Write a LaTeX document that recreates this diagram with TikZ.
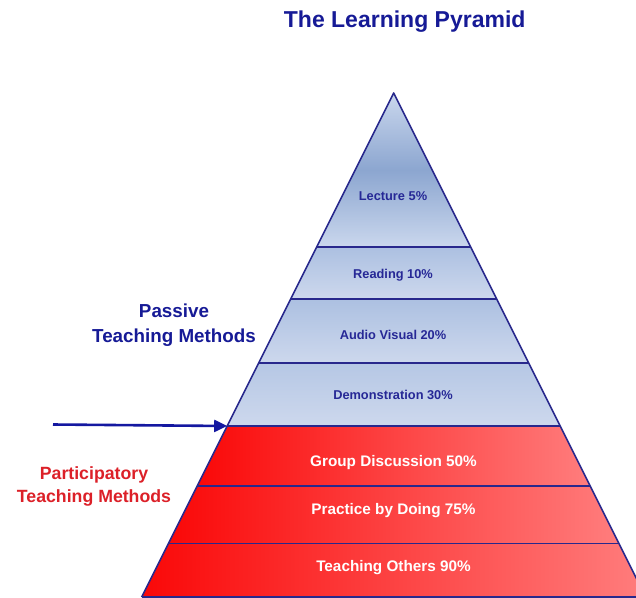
\documentclass[tikz,border=0pt]{standalone}
\usepackage{fontspec}
\setmainfont{Liberation Sans}
\usetikzlibrary{arrows.meta}
\definecolor{edgeblue}{RGB}{40,40,140}
\definecolor{titleblue}{RGB}{22,26,150}
\definecolor{labblue}{RGB}{38,40,150}
\definecolor{partred}{RGB}{220,32,40}
\definecolor{arrowblue}{RGB}{20,24,160}
\definecolor{lightb}{RGB}{202,215,237}
\definecolor{midb}{RGB}{140,166,208}
\definecolor{topb}{RGB}{172,192,225}
\definecolor{botb}{RGB}{205,216,237}
\definecolor{redl}{RGB}{250,8,8}
\definecolor{redr}{RGB}{255,125,125}
\begin{document}
\begin{tikzpicture}[x=1pt,y=-1pt,
  edge/.style={draw=edgeblue,line width=1.6pt,line join=round},
  blueband/.style={top color=topb,bottom color=botb},
  redband/.style={left color=redl,right color=redr},
  pasLabel/.style={font=\bfseries\fontsize{12.8}{14}\selectfont,text=labblue,inner sep=0pt},
  parLabel/.style={font=\bfseries\fontsize{15.3}{17}\selectfont,text=white,inner sep=0pt},
  sideLabel/.style={font=\bfseries,align=center,inner sep=0pt},
  arrowline/.style={draw=arrowblue,line width=2.6pt,-{Triangle[length=13pt,width=12pt]}}]
\useasboundingbox (0,0) rectangle (636,597);
\fill[white] (0,0) rectangle (636,597);
\coordinate (apex) at (393.7,93);
\coordinate (l1) at (316.7,247);   \coordinate (r1) at (470.7,247);
\coordinate (l2) at (290.7,299);   \coordinate (r2) at (496.7,299);
\coordinate (l3) at (258.7,363);   \coordinate (r3) at (528.7,363);
\coordinate (l4) at (227.2,426);   \coordinate (r4) at (560.2,426);
\coordinate (l5) at (197.2,486);   \coordinate (r5) at (590.2,486);
\coordinate (l6) at (168.45,543.5); \coordinate (r6) at (618.95,543.5);
\coordinate (l7) at (141.7,597);   \coordinate (r7) at (645.7,597);
\begin{scope}
\clip (0,0) rectangle (636,597);
\shade[top color=lightb,bottom color=lightb,middle color=midb] (apex) -- (r1) -- (l1) -- cycle;
\shade[blueband] (l1) -- (r1) -- (r2) -- (l2) -- cycle;
\shade[blueband] (l2) -- (r2) -- (r3) -- (l3) -- cycle;
\shade[top color=topb!70!botb,bottom color=botb] (l3) -- (r3) -- (r4) -- (l4) -- cycle;
\shade[redband] (l4) -- (r4) -- (r5) -- (l5) -- cycle;
\shade[redband] (l5) -- (r5) -- (r6) -- (l6) -- cycle;
\shade[redband] (l6) -- (r6) -- (r7) -- (l7) -- cycle;
\draw[edge] (l7) -- (apex) -- (r7);
\draw[edge] (l1) -- (r1);
\draw[edge] (l2) -- (r2);
\draw[edge] (l3) -- (r3);
\draw[edge] (l4) -- (r4);
\draw[edge] (l5) -- (r5);
\draw[edge] (l6) -- (r6);
\draw[edge] (l7) -- (r7);
\end{scope}
\node[pasLabel] (lecture) at (393,196) {Lecture 5\%};
\node[pasLabel] (reading) at (393,275) {Reading 10\%};
\node[pasLabel] (audio) at (393,334.5) {Audio Visual 20\%};
\node[pasLabel] (demo) at (393,395) {Demonstration 30\%};
\node[parLabel] (group) at (393.5,463) {Group Discussion 50\%};
\node[parLabel] (practice) at (393.5,510.5) {Practice by Doing 75\%};
\node[parLabel] (teach) at (393.5,568) {Teaching Others 90\%};
\node[font=\bfseries\fontsize{23}{27}\selectfont,text=titleblue,inner sep=0pt] (title) at (404.7,22) {The Learning Pyramid};
\node[sideLabel,text=titleblue,font=\bfseries\fontsize{18.8}{25}\selectfont] (passive) at (174,325.5) {Passive\\Teaching Methods};
\node[sideLabel,text=partred,font=\bfseries\fontsize{17.7}{23}\selectfont] (partic) at (94,486.5) {Participatory\\Teaching Methods};
\coordinate (arrS) at (53,424.5);
\draw[arrowline] (arrS) -- (l4);
\end{tikzpicture}
\end{document}
